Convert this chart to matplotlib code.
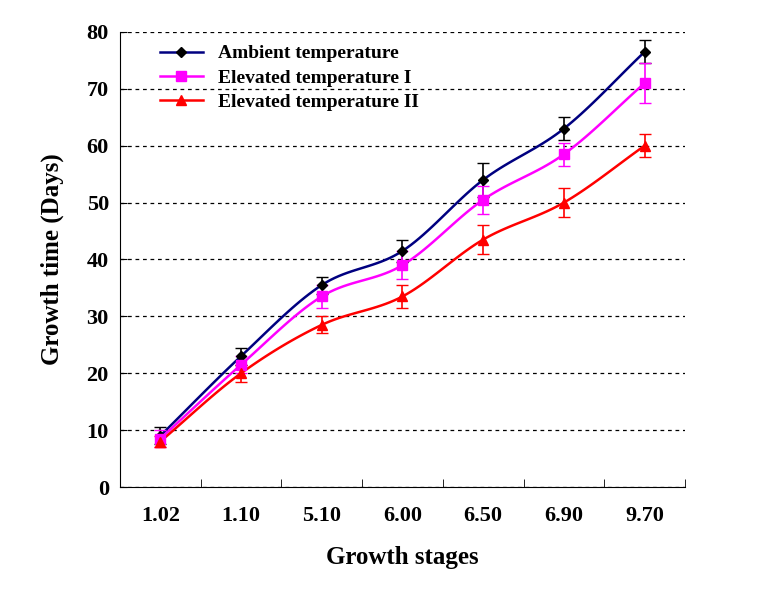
import matplotlib
matplotlib.use('Agg')
import matplotlib.pyplot as plt
import numpy as np

stages = ['1.02', '1.10', '5.10', '6.00', '6.50', '6.90', '9.70']
ambient = [9, 23, 35.5, 41.5, 54, 63, 76.5]
ambient_err = [1.5, 1.5, 1.5, 2, 3, 2, 2]
elev1 = [8.5, 21.5, 33.5, 39, 50.5, 58.5, 71]
elev1_err = [1.5, 1.5, 2, 2.5, 2.5, 2, 3.5]
elev2 = [8, 20, 28.5, 33.5, 43.5, 50, 60]
elev2_err = [1, 1.5, 1.5, 2, 2.5, 2.5, 2]


def smooth(x, y, n=20):
    # Catmull-Rom spline through the points, only for drawing
    x = np.asarray(x, float); y = np.asarray(y, float)
    px = np.concatenate([[2 * x[0] - x[1]], x, [2 * x[-1] - x[-2]]])
    py = np.concatenate([[2 * y[0] - y[1]], y, [2 * y[-1] - y[-2]]])
    xs, ys = [], []
    t = np.linspace(0, 1, n)
    for i in range(1, len(px) - 2):
        for p, out in ((px, xs), (py, ys)):
            p0, p1, p2, p3 = p[i - 1], p[i], p[i + 1], p[i + 2]
            out.extend(0.5 * (2 * p1 + (-p0 + p2) * t + (2 * p0 - 5 * p1 + 4 * p2 - p3) * t ** 2
                              + (-p0 + 3 * p1 - 3 * p2 + p3) * t ** 3))
    return xs, ys


plt.rcParams['font.family'] = ['Liberation Serif', 'DejaVu Serif']
plt.rcParams['font.weight'] = 'bold'

fig = plt.figure(figsize=(7.74, 6.02), dpi=100)
ax = fig.add_axes([0.155, 0.191, 0.73, 0.756])
x = np.arange(len(stages))

series = [
    ("Ambient temperature", ambient, ambient_err, '#000080', 'D', 'black', 5),
    ("Elevated temperature I", elev1, elev1_err, '#ff00ff', 's', '#ff00ff', 7),
    ("Elevated temperature II", elev2, elev2_err, '#ff0000', '^', '#ff0000', 7),
]
for label, vals, err, lc, mk, mc, ms in series:
    sx, sy = smooth(x, vals)
    ax.plot(sx, sy, color=lc, linewidth=1.8, zorder=3)
    ax.errorbar(x, vals, yerr=err, fmt='none', ecolor=mc, elinewidth=1.2, capsize=4, zorder=4)
    ax.plot(x, vals, linestyle='none', marker=mk, color=mc, markersize=ms, zorder=5)
    ax.plot([], [], color=lc, marker=mk, markerfacecolor=mc, markeredgecolor=mc,
            markersize=ms, linewidth=1.8, label=label)

ax.set_xlim(-0.5, len(stages) - 0.5)
ax.set_ylim(0, 80)
ax.set_yticks(range(0, 81, 10))
ax.yaxis.grid(True, linestyle=(0, (3, 3)), color='black', linewidth=0.9)
ax.set_axisbelow(True)
ax.set_xticks(x)
ax.set_xticklabels(stages, fontsize=16, fontweight='bold')
ax.set_xticks(np.arange(-0.5, len(stages), 1), minor=True)
ax.tick_params(axis='x', which='major', length=0, pad=14)
ax.tick_params(axis='x', which='minor', length=6, direction='in')
ax.tick_params(axis='y', labelsize=16, direction='in', length=5, pad=8)
for t in ax.get_yticklabels():
    t.set_fontweight('bold')
ax.spines['top'].set_visible(False)
ax.spines['right'].set_visible(False)
ax.set_xlabel('Growth stages', fontsize=18, fontweight='bold', labelpad=14)
ax.set_ylabel('Growth time (Days)', fontsize=18, fontweight='bold', labelpad=16)
ax.legend(loc='upper left', frameon=False, prop={'size': 14, 'weight': 'bold'},
          bbox_to_anchor=(0.04, 1.01), handlelength=2.2, labelspacing=0.35)

plt.savefig('out.png', dpi=100)
plt.close()
